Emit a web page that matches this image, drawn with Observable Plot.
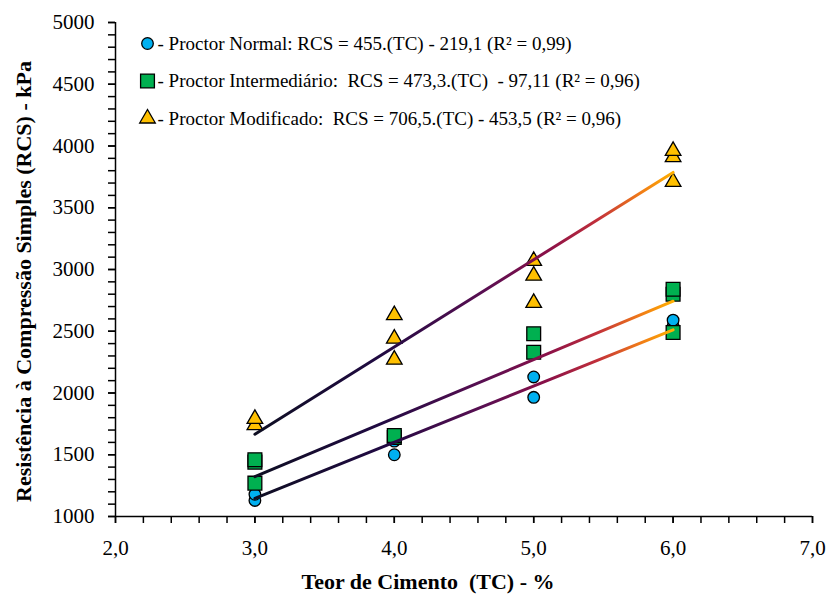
<!DOCTYPE html>
<html><head><meta charset="utf-8">
<script src="https://cdn.jsdelivr.net/npm/d3@7"></script>
<script src="https://cdn.jsdelivr.net/npm/@observablehq/plot@0.6"></script>
<style>body{margin:0;background:#fff} svg{white-space:pre}</style>
</head><body><div id="chart"></div>
<script>
// Measured points (TC %, RCS kPa)
const normalTC = [3, 3, 4, 4, 5, 5, 6, 6];
const normalRCS = [1130, 1180, 1500, 1610, 1965, 2130, 2540, 2590];
const intermTC = [3, 3, 3, 4, 4, 5, 5, 6, 6, 6];
const intermRCS = [1270, 1440, 1460, 1640, 1655, 2330, 2480, 2490, 2800, 2840];
const modifTC = [3, 3, 4, 4, 4, 5, 5, 5, 6, 6, 6];
const modifRCS = [1740, 1790, 2270, 2440, 2630, 2730, 2950, 3070, 3710, 3910, 3960];
// Trend lines end points
const trendTC = [3, 6];
const trendNormal = [1146, 2511];
const trendInterm = [1323, 2743];
const trendModif = [1666, 3786];
// Ticks
const xTickLabels = [2, 3, 4, 5, 6, 7];
const xMinorTicks = d3.range(2, 7.0001, 0.2);
const yTickLabels = [1000, 1500, 2000, 2500, 3000, 3500, 4000, 4500, 5000];
const yMinorTicks = d3.range(1000, 5001, 100);
const legendLabels = [
  "- Proctor Normal: RCS = 455.(TC) - 219,1 (R² = 0,99)",
  "- Proctor Intermediário:  RCS = 473,3.(TC)  - 97,11 (R² = 0,96)",
  "- Proctor Modificado:  RCS = 706,5.(TC) - 453,5 (R² = 0,96)"
];
const xTitle = "Teor de Cimento  (TC) - %";
const yTitle = "Resistência à Compressão Simples (RCS) - kPa";

const seriesStyle = [
  {symbol: "circle", fill: "#00b0f0", r: 5.8},
  {symbol: "square", fill: "#00b050", r: 7.8},
  {symbol: "triangle", fill: "#ffc000", r: 5.8}
];

const fmt = d => d.toFixed(1).replace(".", ",");
const legendMarks = [];
legendLabels.forEach((lab, i) => {
  const s = seriesStyle[i];
  legendMarks.push(Plot.dot([0], {frameAnchor: "top-left", dx: 32, dy: 21 + i * 37.5, symbol: s.symbol, fill: s.fill, stroke: "#000", strokeWidth: 1.3, r: s.r}));
  legendMarks.push(Plot.text([lab], {frameAnchor: "top-left", dx: 42, dy: 21 + i * 37.5, text: d => d, textAnchor: "start", lineAnchor: "middle", fontSize: 19}));
});

const dots = [[normalTC, normalRCS], [intermTC, intermRCS], [modifTC, modifRCS]].map(([xs, ys], i) =>
  Plot.dot(ys, {x: xs, y: ys, symbol: seriesStyle[i].symbol, fill: seriesStyle[i].fill, stroke: "#000", strokeWidth: 1.3, r: seriesStyle[i].r})
);
const lines = [trendNormal, trendInterm, trendModif].map(ys =>
  Plot.line(ys, {x: trendTC, y: ys, stroke: "url(#trendGrad)", strokeWidth: 3})
);

const plot = Plot.plot({
  width: 829, height: 598,
  marginLeft: 115, marginRight: 17, marginTop: 22, marginBottom: 82,
  style: {fontFamily: "'Liberation Serif', 'Times New Roman', serif", fontSize: "21px", color: "#000", background: "#fff", overflow: "visible"},
  x: {domain: [2, 7]},
  y: {domain: [1000, 5000]},
  marks: [
    Plot.axisX({ticks: xMinorTicks, tickSize: 7, tickFormat: () => "", label: null, strokeWidth: 1.5}),
    Plot.axisX({ticks: xTickLabels, tickSize: 7, tickPadding: 17, tickFormat: fmt, label: null, strokeWidth: 1.5}),
    Plot.axisY({ticks: yMinorTicks, tickSize: 7, tickFormat: () => "", label: null, strokeWidth: 1.5}),
    Plot.axisY({ticks: yTickLabels, tickSize: 7, tickPadding: 14, tickFormat: d => String(d), label: null, strokeWidth: 1.5}),
    Plot.ruleX([2], {strokeWidth: 1.5}),
    Plot.ruleY([1000], {strokeWidth: 1.5}),
    ...dots,
    ...lines,
    ...legendMarks,
    Plot.text([xTitle], {frameAnchor: "bottom", dx: -36, dy: 65, text: d => d, lineAnchor: "middle", textAnchor: "middle", fontWeight: "bold", fontSize: 22}),
    Plot.text([yTitle], {frameAnchor: "left", dx: -92, dy: 12, text: d => d, rotate: -90, lineAnchor: "middle", textAnchor: "middle", fontWeight: "bold", fontSize: 22})
  ]
});

const defs = d3.select(plot).insert("defs", ":first-child");
const grad = defs.append("linearGradient").attr("id", "trendGrad").attr("x1", "0").attr("x2", "1").attr("y1", "0").attr("y2", "0");
[[0, "#0e0e22"], [0.3, "#200a42"], [0.55, "#5a0f52"], [0.7, "#8a1048"], [0.82, "#c2303a"], [0.92, "#f07a18"], [1, "#ffb000"]]
  .forEach(([o, c]) => grad.append("stop").attr("offset", o).attr("stop-color", c));

document.getElementById("chart").append(plot);
</script>
</body></html>
